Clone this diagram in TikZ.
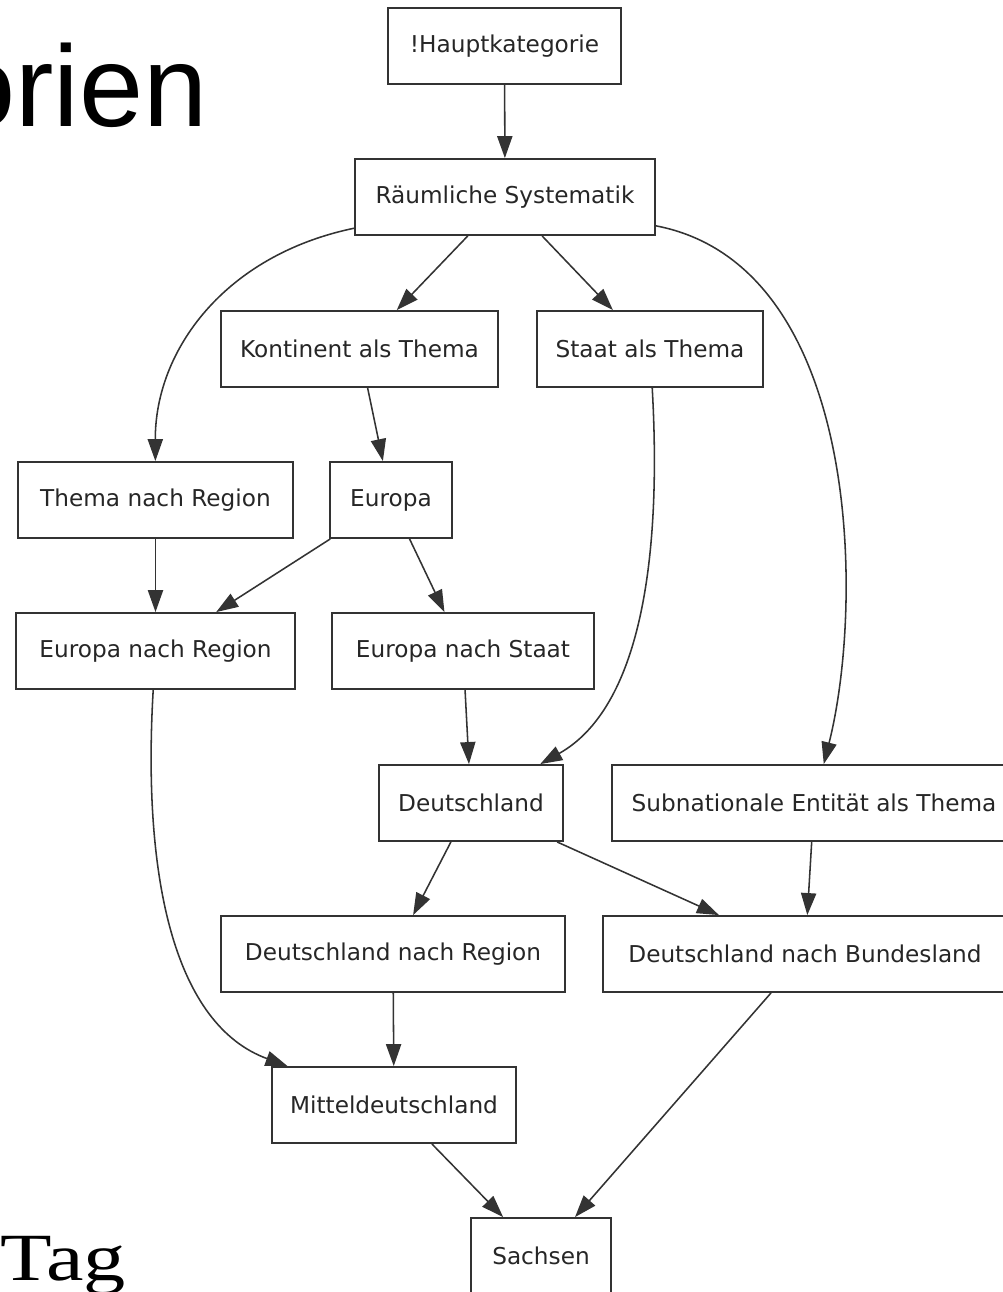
\documentclass[tikz,border=0pt]{standalone}
\usepackage{fontspec}
\newfontfamily\graphfont{DejaVu Sans}
\newfontfamily\slidesans{Liberation Sans}
\newfontfamily\slideserif{Liberation Serif}
\usetikzlibrary{arrows.meta}

\begin{document}
\begin{tikzpicture}[x=0.025cm, y=-0.025cm,
    catbox/.style={rectangle, draw=black!80, line width=1.3pt, minimum height=1.9cm, inner sep=0pt, text=black!85, font=\graphfont\fontsize{16.5}{20}\selectfont},
    arrow/.style={draw=black!80, line width=1.1pt, -{Triangle[length=0.55cm, width=0.38cm]}}]

    \useasboundingbox (0,0) rectangle (1003,1292);
    \clip (0,0) rectangle (1003,1292);

    % rest of the slide
    \node [anchor=base east, inner sep=0pt, font=\slidesans\fontsize{82}{90}\selectfont] (orien) at (208,127) {orien};
    \node [anchor=base west, inner sep=0pt, font=\slideserif\fontsize{48}{56}\selectfont] (tag) at (0,1280) {\scalebox{1.25}[1]{Tag}};

    \node [catbox, minimum width=5.83cm] (haupt) at (504.5,46) {!Hauptkategorie};
    \node [catbox, minimum width=7.5cm] (raum) at (505,197) {Räumliche Systematik};
    \node [catbox, minimum width=6.93cm] (kontinent) at (359.5,349) {Kontinent als Thema};
    \node [catbox, minimum width=5.65cm] (staat) at (650,349) {Staat als Thema};
    \node [catbox, minimum width=6.88cm] (themaregion) at (155.5,500) {Thema nach Region};
    \node [catbox, minimum width=3.05cm] (europa) at (391,500) {Europa};
    \node [catbox, minimum width=6.98cm] (europaregion) at (155.5,651) {Europa nach Region};
    \node [catbox, minimum width=6.55cm] (europastaat) at (463,651) {Europa nach Staat};
    \node [catbox, minimum width=4.6cm] (deutschland) at (471,803) {Deutschland};
    \node [catbox, minimum width=10.1cm] (subnational) at (814,803) {Subnationale Entität als Thema};
    \node [catbox, minimum width=8.6cm] (deregion) at (393,954) {Deutschland nach Region};
    \node [catbox, minimum width=10.1cm] (debundesland) at (805,954) {Deutschland nach Bundesland};
    \node [catbox, minimum width=6.1cm] (mittel) at (394,1105) {Mitteldeutschland};
    \node [catbox, minimum width=3.5cm] (sachsen) at (541,1256) {Sachsen};

    \draw [arrow] (haupt) -- (raum);
    \draw [arrow] (raum) -- (kontinent);
    \draw [arrow] (raum) -- (staat);
    \draw [arrow] (raum) .. controls (225,255) and (155,350) .. (themaregion);
    \draw [arrow] (raum) .. controls (860,265) and (865,600) .. (subnational);
    \draw [arrow] (kontinent) -- (europa);
    \draw [arrow] (staat) .. controls (662,560) and (640,708) .. (deutschland);
    \draw [arrow] (themaregion) -- (europaregion);
    \draw [arrow] (europa) -- (europaregion);
    \draw [arrow] (europa) -- (europastaat);
    \draw [arrow] (europastaat) -- (deutschland);
    \draw [arrow] (europaregion) .. controls (142,880) and (175,1025) .. (mittel);
    \draw [arrow] (deutschland) -- (deregion);
    \draw [arrow] (deutschland) -- (debundesland);
    \draw [arrow] (subnational) -- (debundesland);
    \draw [arrow] (deregion) -- (mittel);
    \draw [arrow] (mittel) -- (sachsen);
    \draw [arrow] (debundesland) -- (sachsen);
\end{tikzpicture}
\end{document}
